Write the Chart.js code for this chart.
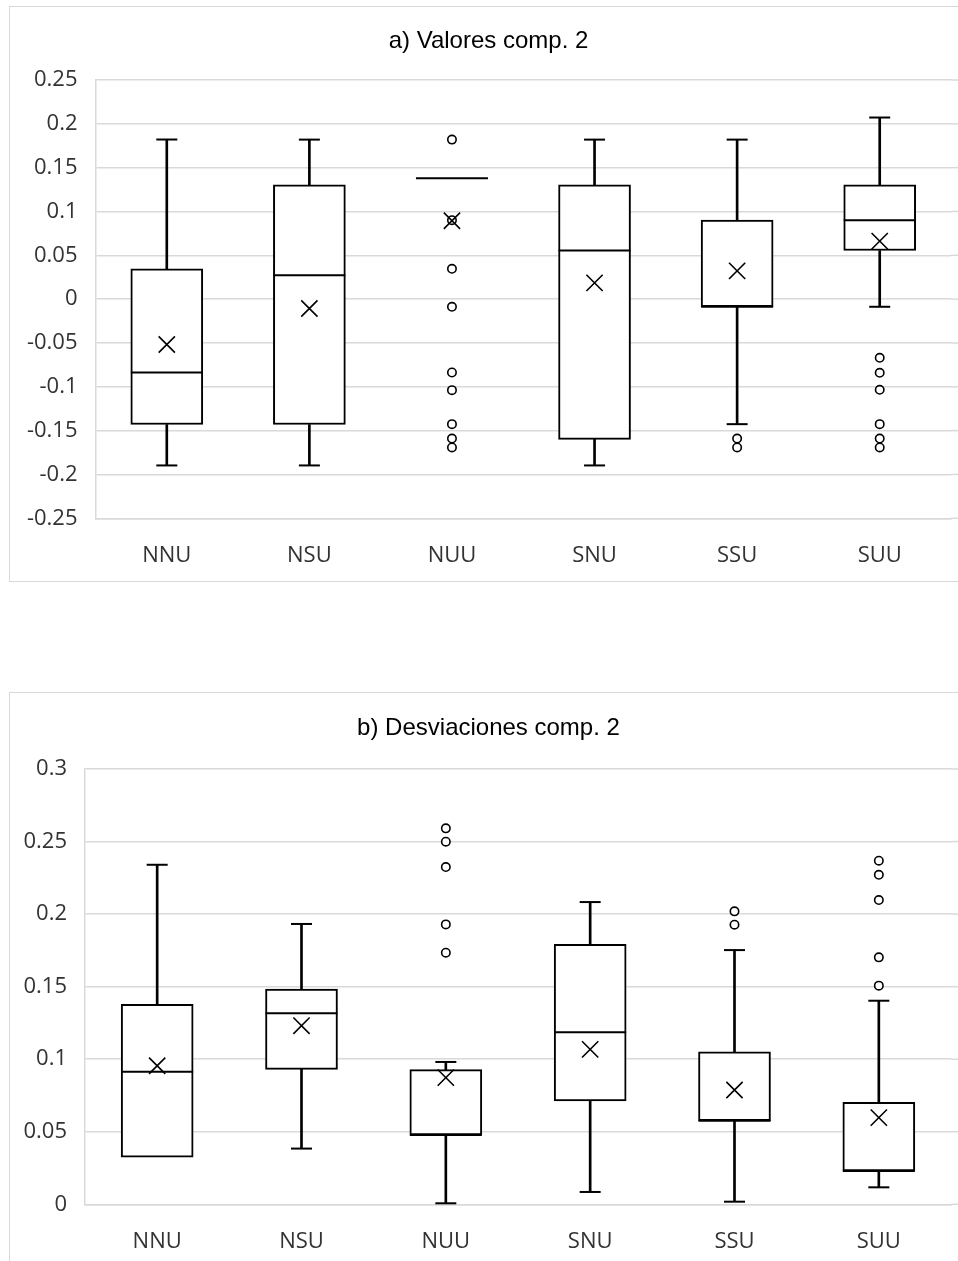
<!DOCTYPE html>
<html><head><meta charset="utf-8">
<script src="https://cdn.jsdelivr.net/npm/chart.js@4.4.1/dist/chart.umd.min.js"></script>
<style>
html,body{margin:0;padding:0;background:#fff;width:958px;height:1261px;overflow:hidden;position:relative}
.frame{position:absolute;left:9px;border:1px solid #d9d9d9;background:#fff}
#fa{top:6px;width:957px;height:574px}
#fb{top:692px;width:957px;height:588px}
canvas{display:block}
</style></head><body>
<div class="frame" id="fa"><canvas id="ca" width="957" height="574" style="width:957px;height:574px"></canvas></div>
<div class="frame" id="fb"><canvas id="cb" width="957" height="588" style="width:957px;height:588px"></canvas></div>
<script>
// ---------- data ----------
const categories = ['NNU', 'NSU', 'NUU', 'SNU', 'SSU', 'SUU'];

// a) Valores comp. 2
const titleA = 'a) Valores comp. 2';
const yTicksA = [-0.25, -0.2, -0.15, -0.1, -0.05, 0, 0.05, 0.1, 0.15, 0.2, 0.25];
const minA    = [-0.1897, -0.1897, null,   -0.1897, -0.1426, -0.0087];
const q1A     = [-0.143,  -0.143,  0.138,  -0.160,  -0.0087, 0.0555];
const medianA = [-0.0837, 0.0274,  0.138,  0.0555,  -0.0087, 0.0901];
const q3A     = [0.0346,  0.1304,  0.138,  0.1304,  0.0901,  0.1304];
const maxA    = [0.1821,  0.182,   null,   0.182,   0.182,   0.2072];
const meanA   = [-0.0517, -0.0106, 0.0894, 0.0186,  0.0323,  0.0662];
const outliersA = [
  [], [],
  [0.182, 0.0901, 0.0346, -0.0087, -0.0837, -0.1038, -0.1426, -0.159, -0.1692],
  [],
  [-0.159, -0.1692],
  [-0.0669, -0.084, -0.1034, -0.1426, -0.159, -0.1692]
];

// b) Desviaciones comp. 2
const titleB = 'b) Desviaciones comp. 2';
const yTicksB = [0, 0.05, 0.1, 0.15, 0.2, 0.25, 0.3];
const minB    = [0.0324, 0.0384, 0.0007, 0.0085, 0.0018, 0.0117];
const q1B     = [0.0324, 0.0930, 0.0478, 0.0712, 0.0576, 0.023];
const medianB = [0.0914, 0.1316, 0.0478, 0.1185, 0.0576, 0.023];
const q3B     = [0.1378, 0.1484, 0.0928, 0.1791, 0.105,  0.0703];
const maxB    = [0.234,  0.1932, 0.0981, 0.2083, 0.1752, 0.1403];
const meanB   = [0.0955, 0.1231, 0.0873, 0.1068, 0.0788, 0.0597];
const outliersB = [
  [], [],
  [0.2591, 0.2499, 0.2324, 0.1929, 0.1734],
  [],
  [0.2019, 0.1927],
  [0.2368, 0.2271, 0.2097, 0.1702, 0.1507]
];

// ---------- drawing ----------
Chart.defaults.font.family = "'Open Sans', 'Noto Sans', sans-serif";
Chart.defaults.color = '#333333';

const INK = '#000000';
const GRID = '#d9d9d9';

// extends the y gridlines to the right edge of the frame (as in the reference)
const gridExtend = {
  id: 'gridExtend',
  beforeDatasetsDraw(chart) {
    const y = chart.scales.y, ctx = chart.ctx, a = chart.chartArea;
    ctx.save();
    ctx.strokeStyle = GRID; ctx.lineWidth = 1.5;
    y.ticks.forEach(t => {
      const py = y.getPixelForValue(t.value);
      ctx.beginPath(); ctx.moveTo(a.right, py); ctx.lineTo(chart.width, py); ctx.stroke();
    });
    ctx.restore();
  }
};

function build(canvasId, d, L) {
  const upperWhisker = categories.map((c, i) => (d.max[i] == null || d.max[i] === d.q3[i]) ? null : [d.q3[i], d.max[i]]);
  const lowerWhisker = categories.map((c, i) => (d.min[i] == null || d.min[i] === d.q1[i]) ? null : [d.min[i], d.q1[i]]);
  const upperCap = categories.map((c, i) => (d.max[i] == null || d.max[i] === d.q3[i]) ? null : d.max[i]);
  const lowerCap = categories.map((c, i) => (d.min[i] == null || d.min[i] === d.q1[i]) ? null : d.min[i]);
  const boxes = categories.map((c, i) => [d.q1[i], d.q3[i]]);
  const outlierPts = [];
  d.outliers.forEach((arr, i) => arr.forEach(v => outlierPts.push({ x: categories[i], y: v })));

  const pointDs = (data, style, radius, width, order, fill) => ({
    type: 'line', data, showLine: false, order,
    pointStyle: style, pointRadius: radius, pointHoverRadius: radius,
    pointBorderWidth: width, pointHoverBorderWidth: width,
    pointBorderColor: INK, borderColor: INK,
    pointBackgroundColor: fill || 'rgba(0,0,0,0)', backgroundColor: fill || 'rgba(0,0,0,0)',
    clip: false
  });

  new Chart(document.getElementById(canvasId), {
    type: 'bar',
    plugins: [gridExtend],
    data: {
      labels: categories,
      datasets: [
        { data: upperWhisker, backgroundColor: INK, borderWidth: 0, barThickness: 2, grouped: false, order: 7 },
        { data: lowerWhisker, backgroundColor: INK, borderWidth: 0, barThickness: 2, grouped: false, order: 6 },
        { data: boxes, backgroundColor: '#ffffff', borderColor: INK, borderWidth: 2, borderSkipped: false, barThickness: 72, grouped: false, order: 5 },
        pointDs(d.median, 'line', 36, 2, 4),
        pointDs(upperCap, 'line', 10.5, 2, 3),
        pointDs(lowerCap, 'line', 10.5, 2, 3),
        pointDs(outlierPts, 'circle', 4.2, 1.6, 2, '#ffffff'),
        pointDs(d.mean, 'crossRot', 11.5, 1.6, 1)
      ]
    },
    options: {
      responsive: false,
      animation: false,
      events: [],
      layout: { padding: 0, autoPadding: false },
      plugins: {
        legend: { display: false },
        tooltip: { enabled: false },
        title: {
          display: true, text: d.title, color: '#000000',
          font: { family: "'Liberation Sans', Arial, sans-serif", size: 24, weight: 'normal', lineHeight: 1.2 },
          padding: { top: L.titleTop, bottom: L.titleBottom }
        }
      },
      scales: {
        x: {
          type: 'category', offset: true,
          grid: { display: false, drawTicks: false },
          border: { display: true, color: GRID, width: 1.5 },
          ticks: { padding: 24.5, font: { size: 22 }, color: '#333333', maxRotation: 0 },
          afterFit: s => { s.height = L.xHeight; s.paddingLeft = 0; s.paddingRight = 0; }
        },
        y: {
          type: 'linear', min: d.yTicks[0], max: d.yTicks[d.yTicks.length - 1],
          grid: { color: GRID, lineWidth: 1.5, drawTicks: false },
          border: { display: true, color: GRID, width: 1.5 },
          afterBuildTicks: s => { s.ticks = d.yTicks.map(v => ({ value: v })); },
          ticks: { padding: 18, font: { size: 22 }, color: '#333333',
                   callback: v => String(Math.round(v * 100) / 100) },
          afterFit: s => { s.width = L.yWidth; }
        },
        yR: {
          type: 'linear', position: 'right', display: true,
          grid: { display: false, drawTicks: false }, border: { display: false },
          ticks: { display: false },
          afterFit: s => { s.width = L.rWidth; }
        }
      }
    }
  });
}

build('ca', { title: titleA, yTicks: yTicksA, min: minA, q1: q1A, median: medianA, q3: q3A, max: maxA, mean: meanA, outliers: outliersA },
      { titleTop: 20.3, titleBottom: 23.9, xHeight: 62.7, yWidth: 85.5, rWidth: 16 });
build('cb', { title: titleB, yTicks: yTicksB, min: minB, q1: q1B, median: medianB, q3: q3B, max: maxB, mean: meanB, outliers: outliersB },
      { titleTop: 20.6, titleBottom: 26.6, xHeight: 76.7, yWidth: 75, rWidth: 16 });
</script>
</body></html>
